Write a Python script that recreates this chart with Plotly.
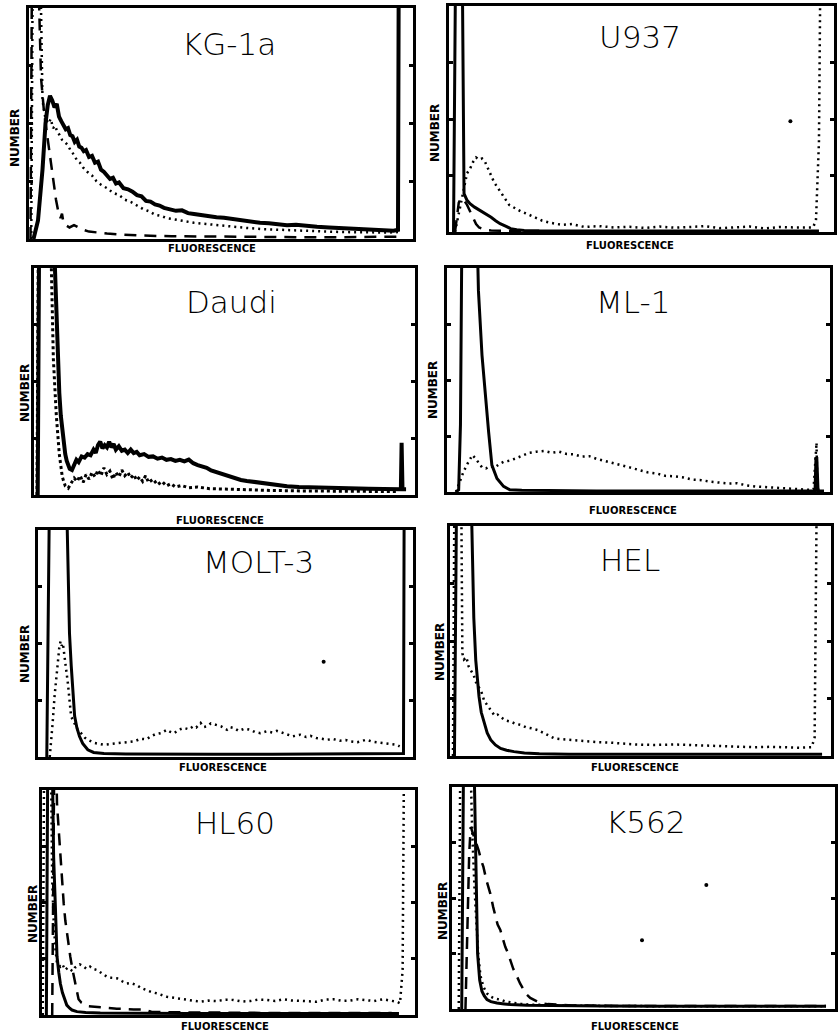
import plotly.graph_objects as go

# ---------------- DATA (channel 0-256, relative count 0-100; >100 = off scale) ----------------
KG1A_SOLID = [(3,0),(6,8),(9,30),(11,50),(12.5,58),(14,62),(15.5,60),(17,57),(18.5,58.5),(20,53),(21.5,51),(23,49),(24.5,47.5),(26,48),(27.5,45),(29,44.5),(30.5,42),(32,43),(33.5,40),(35,39.5),(36.5,38),(38,38.5),(40,35.5),(42,36),(44,33),(46,33.5),(48,30),(50,29),(52,27.5),(54,26),(56,26.5),(58,24),(60,24.5),(63,22),(66,21.5),(69,20.5),(72,19),(75,18.5),(78,16.5),(81,16.2),(84,15),(87,14.5),(90,13.5),(94,13),(98,12.2),(102,12.4),(106,11.2),(110,10.8),(115,10.2),(120,9.8),(125,9.4),(130,9.2),(136,8.6),(142,8.2),(148,7.5),(154,7),(160,6.8),(166,6.3),(172,6),(178,6.2),(185,5.6),(192,5.3),(200,5),(208,4.8),(216,4.5),(224,4.2),(232,4),(238,3.8),(243,3.6),(246,4),(246.5,120)]
KG1A_DOT = [(1.5,0),(2.5,120),(7.5,120),(9,60),(11,52),(13,50),(14.5,52),(16,48),(17.5,49),(19,46),(20.5,45),(22,43),(24,42),(26,40.5),(28,38),(30,36.5),(32,34),(34,33),(36,31),(39,29),(42,27.5),(45,25),(48,23.5),(52,22),(56,20),(60,19),(64,17),(68,16),(72,14.5),(76,13),(80,12),(84,10.5),(88,10),(92,9),(97,8.5),(103,7.8),(110,7),(118,6.5),(126,6),(135,5.2),(145,4.8),(155,4.3),(165,4),(180,3.6),(195,3.3),(210,3),(225,2.8),(240,2.8),(246,3)]
KG1A_DASH = [(1,0),(2,120),(6,120),(8,70),(10,55),(12,45),(13.5,38),(15,30),(16.5,23),(18,17),(19.5,12),(21,9),(22,11),(23,7),(24.5,6),(27,5),(30,6),(33,5),(36,4),(40,3.2),(45,2.8),(52,2.4),(60,2),(75,1.5),(95,1.2),(120,1),(150,0.9),(180,0.8),(210,0.8),(240,0.8),(246,1)]

U937_SOLID = [(3,0),(4.4,120),(8.8,120),(10,17),(12,14),(14,12.5),(17,11),(19,10.2),(21,9.5),(24,8),(26,7.2),(28,6.5),(31,5),(34,3.7),(38,2.5),(41,1.5),(45,1),(50,0.7),(60,0.5),(80,0.5),(120,0.4),(160,0.4),(200,0.4),(240,0.4),(246,0.4)]
U937_DASH = [(4,0),(5,6),(6.5,13),(8,15),(10,14),(12,12),(14,9),(16,6),(18,3.5),(20,2),(24,1),(28,0.7),(35,0.5),(45,0.4),(60,0.3)]
U937_DOT = [(4,0),(7,10),(10,20),(12,26),(14,28),(16,31),(18,33),(20,32),(22,32.5),(24,31),(26,28),(28,25),(30,22),(33,19),(36,16),(40,12),(44,10.5),(48,9),(52,8),(57,6.5),(62,5),(68,4),(75,3.2),(82,3.5),(90,2.2),(100,2.6),(110,2),(120,2.3),(130,1.8),(140,2.4),(150,1.9),(160,2.2),(170,2.6),(180,1.7),(190,2.1),(200,2.4),(210,1.6),(220,2.2),(230,2),(238,1.8),(242,2),(244,5),(246,40),(247,120),(248,120)]
U937_SPECK = [(227,49)]

DAUDI_SOLID = [(2.5,0),(3.5,120),(13,120),(14,100),(15,75),(16,58),(17,45),(18,35),(19,28),(20,22),(21,18),(22,15),(23,12.5),(24,11.5),(25.5,11),(27,13),(28.5,15.5),(30,14.5),(32,17),(34,16.5),(36,18),(38,17.5),(40,20),(41.5,18.5),(43,22),(44.5,23.5),(46,20.5),(47.5,22),(49,21),(50.5,23.5),(52,21),(53.5,22.5),(55,20),(57,21.5),(59,19.5),(61,20),(63,18.5),(65,20),(67,18.5),(69,19),(71,17.5),(74,18),(77,16.8),(80,17),(83,16),(86,16.5),(89,15.5),(92,15.8),(95,15),(98,15.5),(101,14.8),(104,15.6),(107,14),(110,13.2),(113,12.5),(116,12),(119,10.8),(122,10.2),(125,9.5),(128,8.6),(131,8),(135,7.2),(139,6.6),(143,6.2),(148,5.8),(153,5),(158,4.6),(164,4.2),(170,3.9),(178,3.5),(186,3.3),(195,3.1),(205,3),(215,2.8),(225,2.7),(235,2.6),(245,2.5),(246.5,2.5),(247,23),(247.6,2.5),(250,2.5)]
DAUDI_DOT = [(2,0),(3,120),(11,120),(13,60),(15,35),(17,18),(19,8),(21,4),(23,3),(25,5.5),(27,7.5),(29,6),(31,8.5),(33,5.5),(35,9),(37,7),(39,10),(41,8),(43,11),(45,8.5),(47,12),(49,9),(51,10.5),(53,7),(55,10),(57,8),(59,11),(61,8.5),(63,10),(65,7.5),(67,9),(69,6.5),(71,8),(73,6),(75,8.5),(77,5.5),(80,7),(83,4.5),(86,6),(89,4),(92,5),(95,3.5),(99,4.2),(104,3.2),(110,3.5),(118,2.8),(126,2.6),(135,2.4),(145,2.2),(160,2),(180,1.8),(200,1.7),(220,1.6),(245,1.5)]

ML1_SOLID = [(6,0),(7.8,1),(9,30),(10,120),(20,120),(21,90),(23.4,61),(25.6,43),(27.8,27),(30,12),(33.4,6),(37.8,2.5),(42,1),(50,0.8),(70,0.6),(100,0.5),(150,0.5),(200,0.5),(240,0.5),(246,0.5),(246.6,15),(247.2,15),(248,0.5),(252,0.5)]
ML1_DOT = [(6,0),(8,4),(11,9),(14,13),(17,16.5),(19,15),(21,13),(23.4,11),(26,10.5),(29,11.5),(32,11),(35,12.5),(38,13.5),(42,14),(46,15),(50,16),(55,17.5),(60,18),(65,18.3),(70,17.5),(75,18),(80,17),(85,16.8),(90,15.8),(95,16),(100,14.8),(105,14),(110,13.3),(116,12),(122,11),(128,10),(134,8.8),(140,8.3),(146,7.2),(152,7),(158,6.5),(164,5.5),(170,5.3),(176,4.6),(182,4.3),(188,3.8),(194,3.9),(200,3),(206,2.5),(212,2.2),(220,1.8),(228,1.4),(236,1.2),(242,1),(245,1.2),(246.5,22),(247,22),(247.5,1),(249,1)]

MOLT3_SOLID = [(6,0),(7.9,120),(19.3,120),(20.5,85),(21.5,54.5),(22.7,40),(23.8,26.7),(25,18),(26.5,13),(28.3,9.1),(30.5,6),(34,3.2),(38,2),(45,1.5),(60,1.3),(80,1.2),(120,1.2),(160,1.2),(200,1.3),(240,1.4),(249.5,1.5),(250,120),(251,120)]
MOLT3_DOT = [(8,0),(9,6.2),(10,15),(11.3,26.7),(12.5,36),(13.6,42.8),(14.5,48),(15.4,51),(16.2,49),(17,50),(17.8,46),(18.6,42.8),(19.5,37),(20.4,32.5),(22.6,17.9),(25,15),(27,12),(29.4,10.5),(32,8.5),(34,7.6),(38.5,6.2),(45,5.4),(50,5.8),(54,6.2),(60,6.5),(65.7,6.9),(70,8),(74,7.8),(77,9.1),(80,10),(83.8,10.5),(88,12),(90,11.2),(92.9,10.5),(96,12),(99.7,12.8),(103,12.2),(106,13.5),(108,13),(111,15),(113,13.2),(115.5,13.5),(118,14.8),(122,14.2),(125,13.5),(129,12),(131,13.2),(133.6,12.8),(137,11.5),(141,12.5),(145,12),(148,11),(151.8,10.5),(156,11.3),(160,10.8),(163,11.5),(167.6,10.5),(171,9.5),(174,9.1),(179,9.8),(183,8.8),(186,9.3),(190,8.4),(194,8),(197,7.6),(201.6,7.9),(206,7.2),(210,7.5),(213,6.9),(218,6.5),(224,7.6),(228,6.8),(232,6.5),(235.6,6.2),(240,5.8),(244.6,5.4),(246.9,4.7)]
MOLT3_SPECK = [(195,42)]

HEL_SOLID = [(3,0),(4.5,120),(14,120),(15,90),(16,60),(17.3,41.7),(18.5,32),(19.5,25.8),(21,19),(22.9,14.2),(25,10),(27.4,7),(30.5,4.8),(34,3.3),(38,2.5),(43,1.9),(50,1.3),(60,1),(80,0.8),(120,0.8),(160,0.8),(200,0.8),(240,0.8),(250,0.8)]
HEL_DOT = [(2,0),(3,120),(7.5,120),(8.3,44.6),(9.4,42),(11,43),(12.5,39),(14,37.4),(16,35),(18,31),(20.7,28.7),(23,24),(25,22),(27.4,20),(30,17.5),(32,18),(34,17.1),(37,15.5),(40.9,14.9),(44,14),(47.6,13.5),(51,12.5),(55,12),(58.8,11.3),(63,10),(67,8.5),(70,7.7),(75,7.3),(81.3,7),(87,6.5),(92.5,6.2),(100,6),(108,5.8),(115,5.5),(125,5),(137.5,4.8),(150,5),(160,4.8),(170,4.6),(182,4.3),(195,4.1),(205,3.8),(215,4),(227,3.8),(235,3.6),(243,3.8),(245,8),(246.5,120),(248,120),(250,120)]

HL60_SOLID = [(3,0),(4,120),(6.9,120),(8,70),(9.1,49.6),(10.3,26),(11.5,19),(12.6,14),(14,10),(14.9,8),(17,4.4),(19,3),(20.6,2.2),(24,1.5),(30,1.1),(40,0.9),(60,0.8),(100,0.7),(150,0.7),(200,0.7),(245,0.7)]
HL60_DASH = [(7,0),(8.5,120),(9.5,120),(10.3,94),(11.5,82),(12.6,70),(13.8,60),(14.9,49.6),(16,42),(17.1,36),(18.3,31),(19.4,26),(21,20),(22.9,14),(24,10),(25.1,7),(27,5.5),(30.9,4),(34,3.8),(37.7,3.5),(44,3.2),(51.4,2.8),(57,2.6),(62.9,2.5),(69.7,2.5),(75,1.5),(90,1.2),(120,1),(160,0.9),(200,0.9),(240,0.9)]
HL60_DOT = [(0.5,0),(1.5,120),(6,120),(7,60),(8,42),(9.1,30),(10.3,23),(11.5,22),(12.6,21.5),(14,22.5),(16,20),(17.5,21),(19.4,20),(21,19.5),(22.5,21),(24,21.5),(26,22.5),(28.6,21.5),(30.5,20.5),(33,21.5),(35,20.5),(37.7,20),(41,18.5),(44.6,17),(48,16.5),(51.4,16.3),(55,15),(58,14),(61,14.2),(65,13.3),(68,12),(72,11),(75,10.2),(79,9.6),(82,8.8),(85.7,8.1),(89,7.8),(92.6,7.4),(96,7),(99.4,6.7),(104,6.4),(108.6,5.9),(114,6.4),(120,6.2),(126,6.8),(131.4,6.7),(137,6),(143,6.2),(148,6.8),(154,6.7),(160,6.2),(165.7,7),(171,6.5),(177,6.4),(183,6),(188.6,5.9),(194,6.8),(200,7),(206,6.3),(211.5,6.4),(217,7),(223,6.7),(228,6.2),(234,7),(238,6.5),(243.5,5.9),(245.7,5.2),(247.5,20),(248.5,120),(249.5,120)]

K562_SOLID = [(6.5,0),(7.8,120),(14.5,120),(15.6,77.5),(16.7,47.6),(17.1,25),(18.5,13),(20,8),(21.5,6),(23.4,4.2),(26,3.3),(30,2.7),(35,2.3),(39,2),(50,1.7),(70,1.5),(100,1.3),(140,1.2),(180,1.2),(220,1.2),(250,1.2)]
K562_DOT = [(4.5,0),(5.6,120),(12,120),(13.5,80),(15,55),(16.7,35),(17.5,25),(19,15),(21,10),(23.4,7),(25.6,5.7),(28,4.8),(32.3,4.2),(36,3.3),(41,2.7),(46,2.3),(52,2),(60,1.8),(80,1.5),(120,1.3),(180,1.2),(250,1.2)]
K562_DASH = [(9,0),(10.5,40),(11.5,70),(12.5,82),(13.5,80),(14.5,79),(16,75),(17.8,71.5),(19.5,67),(21,64),(23,58),(25.6,52),(27.5,46),(29,41.6),(30.5,38),(32.3,35.6),(34,31),(35.6,28),(37.5,25),(39,22),(41,18),(43.4,14.7),(45.5,11.5),(47.9,8.7),(50,6.5),(52.3,5),(55,4),(59,2.7),(64,2.2),(68,2),(80,1.6),(110,1.4),(150,1.3),(200,1.3),(250,1.3)]
K562_SPECK = [(170,55.8),(127,31)]

CELL_LINES = ["KG-1a", "U937", "Daudi", "ML-1", "MOLT-3", "HEL", "HL60", "K562"]
Y_TICKS = [25, 50, 75]
X_LABEL = "FLUORESCENCE"
Y_LABEL = "NUMBER"

# ---------------- LAYOUT / STYLE ----------------
W, H = 838, 1034
SOLID = dict(color="black", width=3, dash="solid")
THICK = dict(color="black", width=4, dash="solid")
DOT = dict(color="black", width=2.5, dash="2px,4px")
DOT_THICK = dict(color="black", width=3, dash="3px,3px")
DASH = dict(color="black", width=2.5, dash="12px,8px")

# box px (left, right, top, bottom), title centre px, y-label x px, x-label centre px
PANELS = [
    dict(series=[(KG1A_DASH, DASH), (KG1A_DOT, DOT), (KG1A_SOLID, THICK)], specks=[],
         box=(29, 413, 8, 239), title=(229, 44), ylab=(15, 138), xlab=(212, 248)),
    dict(series=[(U937_DASH, DASH), (U937_DOT, DOT), (U937_SOLID, SOLID)], specks=U937_SPECK,
         box=(449, 834, 6, 232), title=(640, 37), ylab=(435, 133), xlab=(630, 245)),
    dict(series=[(DAUDI_DOT, DOT_THICK), (DAUDI_SOLID, THICK)], specks=[],
         box=(34, 415, 268, 495), title=(232, 302), ylab=(25, 393), xlab=(220, 520)),
    dict(series=[(ML1_DOT, DOT), (ML1_SOLID, SOLID)], specks=[],
         box=(447, 830, 268, 492), title=(633, 302), ylab=(433, 390), xlab=(633, 510)),
    dict(series=[(MOLT3_DOT, DOT), (MOLT3_SOLID, SOLID)], specks=MOLT3_SPECK,
         box=(38, 413, 530, 757), title=(258, 562), ylab=(25, 654), xlab=(223, 767)),
    dict(series=[(HEL_DOT, DOT), (HEL_SOLID, SOLID)], specks=[],
         box=(450, 831, 526, 756), title=(630, 560), ylab=(440, 652), xlab=(635, 767)),
    dict(series=[(HL60_DASH, DASH), (HL60_DOT, DOT), (HL60_SOLID, SOLID)], specks=[],
         box=(42, 415, 790, 1015), title=(235, 823), ylab=(33, 914), xlab=(225, 1026)),
    dict(series=[(K562_DASH, DASH), (K562_DOT, DOT), (K562_SOLID, SOLID)], specks=K562_SPECK,
         box=(452, 835, 787, 1009), title=(646, 822), ylab=(443, 911), xlab=(635, 1026)),
]


def xy(pts):
    return [p[0] for p in pts], [p[1] for p in pts]


fig = go.Figure()
annotations = []
for i, (name, p) in enumerate(zip(CELL_LINES, PANELS), start=1):
    sfx = "" if i == 1 else str(i)
    xa, ya = "x" + sfx, "y" + sfx
    for pts, style in p["series"]:
        xs, ys = xy(pts)
        fig.add_trace(go.Scatter(x=xs, y=ys, mode="lines", line=style,
                                 xaxis=xa, yaxis=ya, showlegend=False, hoverinfo="skip"))
    if p["specks"]:
        xs, ys = xy(p["specks"])
        fig.add_trace(go.Scatter(x=xs, y=ys, mode="markers",
                                 marker=dict(color="black", size=4),
                                 xaxis=xa, yaxis=ya, showlegend=False, hoverinfo="skip"))
    l, r, t, b = p["box"]
    fig.layout["xaxis" + sfx] = dict(
        domain=[l / W, r / W], anchor=ya, range=[0, 256], showgrid=False, zeroline=False,
        showticklabels=False, ticks="", showline=True, linewidth=3, linecolor="black",
        mirror=True, fixedrange=True)
    fig.layout["yaxis" + sfx] = dict(
        domain=[1 - b / H, 1 - t / H], anchor=xa, range=[0, 100], showgrid=False,
        zeroline=False, showticklabels=False, tickvals=Y_TICKS, ticks="inside", ticklen=4,
        tickwidth=3, tickcolor="black", showline=True, linewidth=3, linecolor="black",
        mirror="allticks", fixedrange=True)
    tx, ty = p["title"]
    annotations.append(dict(text=name, x=tx / W, y=1 - ty / H, xref="paper", yref="paper",
                            xanchor="center", yanchor="middle", showarrow=False,
                            font=dict(family="DejaVu Sans", size=31, color="black", weight=300)))
    yx, yy = p["ylab"]
    annotations.append(dict(text=Y_LABEL, x=yx / W, y=1 - yy / H, xref="paper", yref="paper",
                            xanchor="center", yanchor="middle", showarrow=False, textangle=-90,
                            font=dict(family="DejaVu Sans", size=12, color="black", weight="bold")))
    lx, ly = p["xlab"]
    annotations.append(dict(text=X_LABEL, x=lx / W, y=1 - ly / H, xref="paper", yref="paper",
                            xanchor="center", yanchor="middle", showarrow=False,
                            font=dict(family="DejaVu Sans", size=10, color="black", weight="bold")))

fig.update_layout(width=W, height=H, margin=dict(l=0, r=0, t=0, b=0), autosize=False,
                  paper_bgcolor="white", plot_bgcolor="white", annotations=annotations,
                  showlegend=False)

fig.write_html("out.html", config={"displayModeBar": False},
               post_script="document.body.style.margin='0px';")
